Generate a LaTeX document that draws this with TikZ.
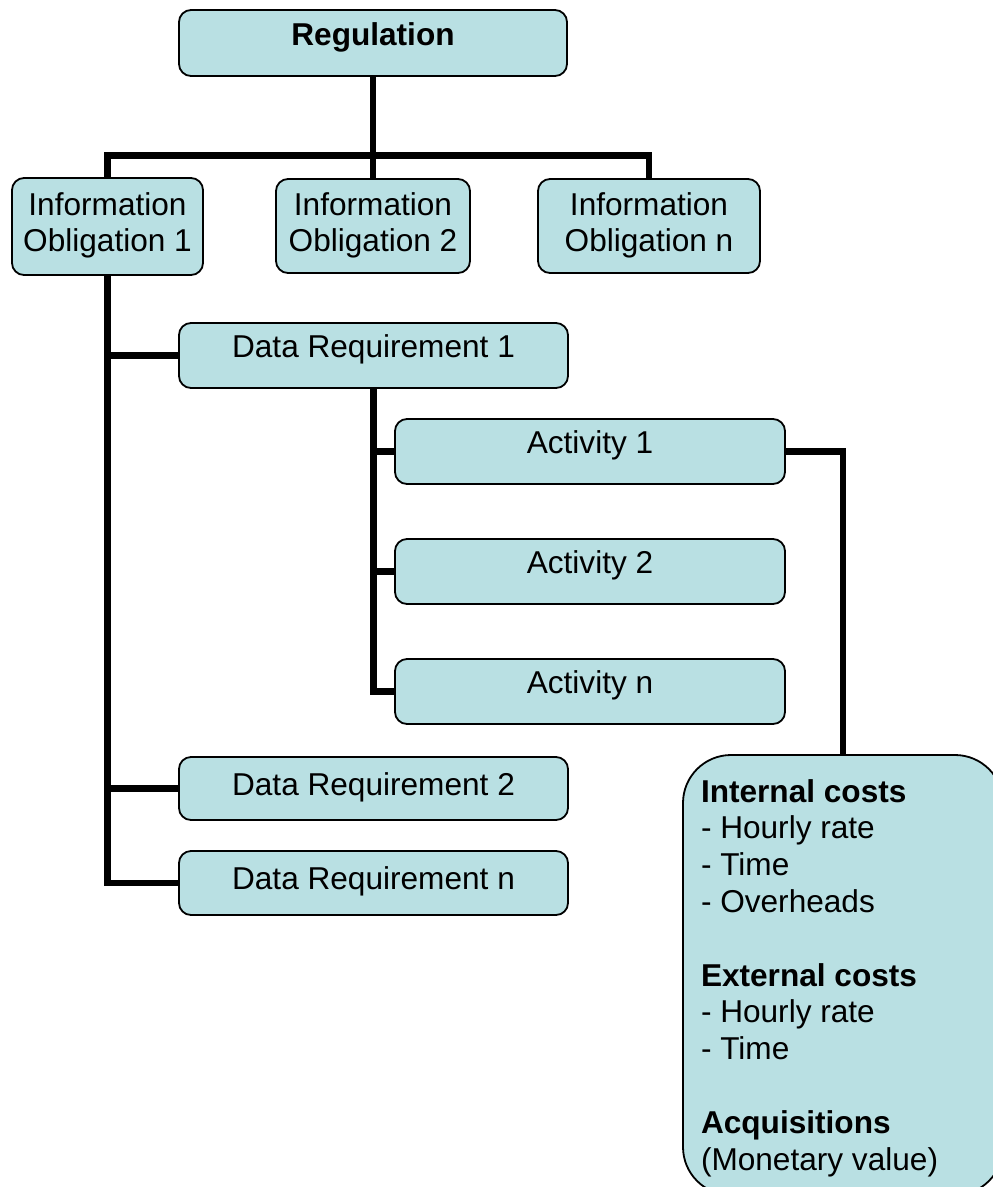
\documentclass[tikz,border=0pt]{standalone}
\usepackage{fontspec}
\setmainfont{Liberation Sans}
\definecolor{boxfill}{RGB}{185,224,227}
\tikzset{
  boxstyle/.style={draw=black, line width=1.8pt, fill=boxfill, rounded corners=12pt, inner sep=0pt, outer sep=0pt},
  conn/.style={line width=6.3pt, line join=miter, draw=black},
  txt/.style={font=\fontsize{31.6}{36.8}\selectfont, inner sep=0pt, outer sep=0pt, anchor=base},
  btxt/.style={txt, font=\fontsize{31.6}{36.8}\selectfont\bfseries},
}
\newcommand\mkbox[5]{\node[boxstyle, minimum width={(#4-#2)*1pt}, minimum height={(#5-#3)*1pt}] (#1) at ({(#2+#4)/2},{(#3+#5)/2}) {};}
\begin{document}
\begin{tikzpicture}[x=1pt,y=-1pt]
\clip (0,0) rectangle (993,1187);
\fill[white] (0,0) rectangle (993,1187);

\coordinate (barl) at (107.5,155.5);
\coordinate (barr) at (649,155.5);
\mkbox{reg}{179}{10}{567}{76}
\mkbox{io1}{12}{178}{203}{275}
\mkbox{io2}{276}{179}{470}{273}
\mkbox{io3}{538}{179}{760}{273}
\mkbox{dr1}{179}{323}{568}{388}
\mkbox{act1}{395}{419}{785}{484}
\mkbox{act2}{395}{539}{785}{604}
\mkbox{actn}{395}{659}{785}{724}
\mkbox{dr2}{179}{757}{568}{820}
\mkbox{drn}{179}{851}{568}{915}
\node[boxstyle, rounded corners=48pt, minimum width=320pt, minimum height=440pt] (cost) at (843,975) {};

\draw[conn] (reg.south) -- (io2.north);
\draw[conn] (io1.north) -- (io1.north |- barl) -- (io3.north |- barr) -- (io3.north);
\draw[conn] (io1.south) -- (io1.south |- drn.west) -- (drn.west);
\draw[conn] (io1.south |- dr1.west) -- (dr1.west);
\draw[conn] (io1.south |- dr2.west) -- (dr2.west);
\draw[conn] (dr1.south) -- (dr1.south |- actn.west) -- (actn.west);
\draw[conn] (dr1.south |- act1.west) -- (act1.west);
\draw[conn] (dr1.south |- act2.west) -- (act2.west);
\draw[conn] (act1.east) -| (cost.north);

\node[btxt] (treg) at (373,45) {Regulation};
\node[txt] (tio1) at (107.5,215) {\begin{tabular}[t]{@{}c@{}}Information\\Obligation 1\end{tabular}};
\node[txt] (tio2) at (373,215) {\begin{tabular}[t]{@{}c@{}}Information\\Obligation 2\end{tabular}};
\node[txt] (tio3) at (649,215) {\begin{tabular}[t]{@{}c@{}}Information\\Obligation n\end{tabular}};
\node[txt] (tdr1) at (373.5,357) {Data Requirement 1};
\node[txt] (tact1) at (590,453) {Activity 1};
\node[txt] (tact2) at (590,573) {Activity 2};
\node[txt] (tactn) at (590,693) {Activity n};
\node[txt] (tdr2) at (373.5,795) {Data Requirement 2};
\node[txt] (tdrn) at (373.5,889) {Data Requirement n};
\node[txt, anchor=base west] (tcost) at (701,802) {\begin{tabular}[t]{@{}l@{}}\textbf{Internal costs}\\- Hourly rate\\- Time\\- Overheads\\ \\\textbf{External costs}\\- Hourly rate\\- Time\\ \\\textbf{Acquisitions}\\(Monetary value)\end{tabular}};
\end{tikzpicture}
\end{document}
